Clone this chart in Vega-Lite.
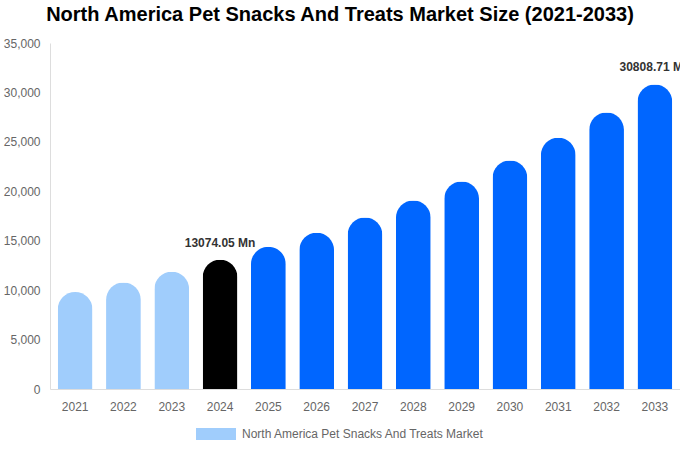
{
  "$schema": "https://vega.github.io/schema/vega-lite/v6.json",
  "autosize": {"type": "none"},
  "padding": {"left": 50, "top": 43, "right": 0, "bottom": 61},
  "width": 630,
  "height": 346,
  "background": "white",
  "config": {
    "font": "Liberation Sans",
    "view": {"stroke": null}
  },
  "title": {
    "text": "North America Pet Snacks And Treats Market Size (2021-2033)",
    "fontSize": 20,
    "fontWeight": "bold",
    "color": "#000000",
    "anchor": "middle",
    "dx": -25,
    "offset": 12
  },
  "data": {
    "values": [
      {"year": "2021", "value": 9810, "phase": "historical", "label": ""},
      {"year": "2022", "value": 10780, "phase": "historical", "label": ""},
      {"year": "2023", "value": 11860, "phase": "historical", "label": ""},
      {"year": "2024", "value": 13074.05, "phase": "base", "label": "13074.05 Mn"},
      {"year": "2025", "value": 14390, "phase": "forecast", "label": ""},
      {"year": "2026", "value": 15810, "phase": "forecast", "label": ""},
      {"year": "2027", "value": 17360, "phase": "forecast", "label": ""},
      {"year": "2028", "value": 19080, "phase": "forecast", "label": ""},
      {"year": "2029", "value": 21000, "phase": "forecast", "label": ""},
      {"year": "2030", "value": 23120, "phase": "forecast", "label": ""},
      {"year": "2031", "value": 25420, "phase": "forecast", "label": ""},
      {"year": "2032", "value": 27980, "phase": "forecast", "label": ""},
      {"year": "2033", "value": 30808.71, "phase": "forecast", "label": "30808.71 Mn"}
    ]
  },
  "encoding": {
    "x": {
      "field": "year",
      "type": "ordinal",
      "title": null,
      "scale": {"paddingInner": 0.28, "paddingOuter": 0.16},
      "axis": {
        "labelAngle": 0,
        "labelColor": "#666666",
        "labelFontSize": 12,
        "labelPadding": 12,
        "ticks": false,
        "domainColor": "#dddddd",
        "grid": false
      }
    },
    "y": {
      "field": "value",
      "type": "quantitative",
      "title": null,
      "scale": {"domain": [0, 35000], "nice": false},
      "axis": {
        "values": [0, 5000, 10000, 15000, 20000, 25000, 30000, 35000],
        "format": ",.0f",
        "labelColor": "#666666",
        "labelFontSize": 12,
        "labelPadding": 10,
        "ticks": false,
        "grid": false,
        "domainColor": "#dddddd"
      }
    }
  },
  "layer": [
    {
      "mark": {"type": "bar", "cornerRadiusTopLeft": 17.5, "cornerRadiusTopRight": 17.5},
      "encoding": {
        "color": {
          "field": "phase",
          "type": "nominal",
          "scale": {
            "domain": ["historical", "base", "forecast"],
            "range": ["#a0cdfc", "#000000", "#0066ff"]
          },
          "legend": {
            "values": ["historical"],
            "title": null,
            "orient": "none",
            "legendX": 146,
            "legendY": 371,
            "labelExpr": "'North America Pet Snacks And Treats Market'",
            "labelColor": "#666666",
            "labelFontSize": 12,
            "labelLimit": 400,
            "symbolType": "M-1,-0.3L1,-0.3L1,0.3L-1,0.3Z",
            "symbolSize": 1600,
            "symbolStrokeWidth": 0,
            "labelOffset": 6
          }
        }
      }
    },
    {
      "mark": {"type": "text", "fontWeight": "bold", "fontSize": 12, "color": "#333333", "baseline": "middle", "dy": -17},
      "encoding": {
        "text": {"field": "label"}
      }
    }
  ]
}
